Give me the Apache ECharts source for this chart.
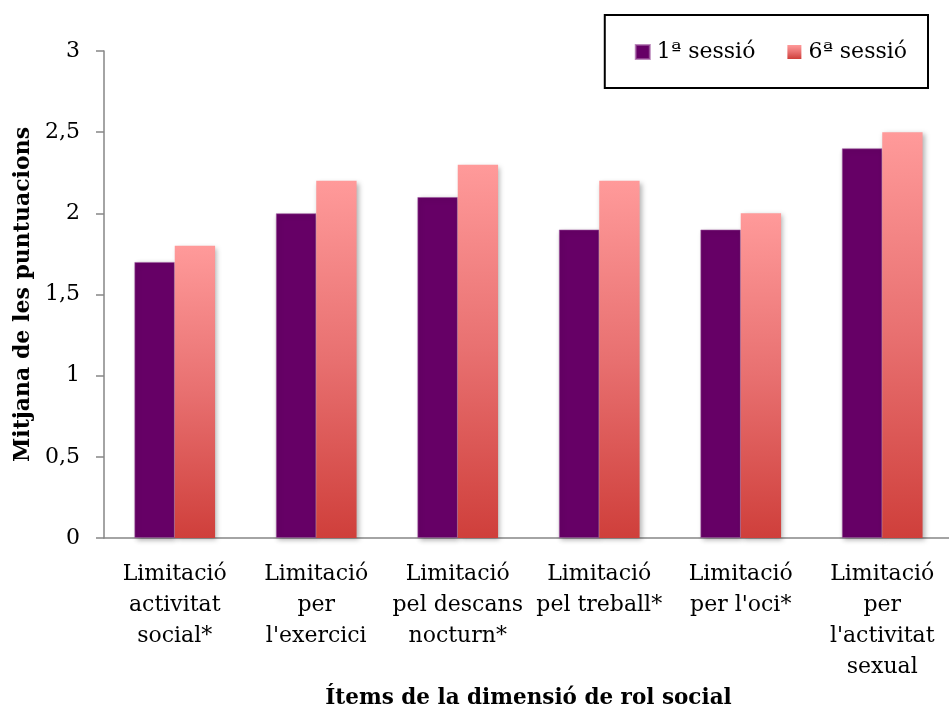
<!DOCTYPE html>
<html>
<head>
<meta charset="utf-8">
<script src="https://cdn.jsdelivr.net/npm/echarts@6/dist/echarts.min.js"></script>
<style>html,body{margin:0;padding:0;background:#fff}#c{width:949px;height:714px}</style>
</head>
<body>
<div id="c"></div>
<script>
const categories = [
  'Limitació\nactivitat\nsocial*',
  'Limitació\nper\nl\'exercici',
  'Limitació\npel descans\nnocturn*',
  'Limitació\npel treball*',
  'Limitació\nper l\'oci*',
  'Limitació\nper\nl\'activitat\nsexual'
];
const seriesNames = ['1ª sessió', '6ª sessió'];
const session1 = [1.7, 2.0, 2.1, 1.9, 1.9, 2.4];
const session6 = [1.8, 2.2, 2.3, 2.2, 2.0, 2.5];
const yTicks = [0, 0.5, 1, 1.5, 2, 2.5, 3];

const font = 'DejaVu Serif';
const chart = echarts.init(document.getElementById('c'), null, {renderer: 'canvas'});
const pinkGrad = new echarts.graphic.LinearGradient(0, 0, 0, 1, [
  {offset: 0, color: '#ff9a9a'},
  {offset: 0.5, color: '#e87070'},
  {offset: 1, color: '#cf3f3b'}
]);
chart.setOption({
  animation: false,
  backgroundColor: '#fff',
  grid: {left: 104, top: 51, width: 849, height: 487, containLabel: false, outerBoundsMode: 'none'},
  legend: {
    right: 21, top: 15,
    orient: 'horizontal',
    borderColor: '#000', borderWidth: 2,
    padding: [26, 21, 25, 30],
    itemWidth: 14, itemHeight: 14, itemGap: 32,
    textStyle: {fontFamily: font, fontSize: 22, color: '#000', padding: [0, 0, 0, 2]},
    data: [
      {name: seriesNames[0], icon: 'rect'},
      {name: seriesNames[1], icon: 'rect', itemStyle: {color: pinkGrad}}
    ]
  },
  xAxis: {
    type: 'category',
    data: categories,
    name: 'Ítems de la dimensió de rol social',
    nameLocation: 'middle',
    nameGap: 144,
    nameTextStyle: {fontFamily: font, fontSize: 21.5, fontWeight: 'bold', color: '#000'},
    axisLine: {lineStyle: {color: '#868686', width: 1.5}},
    axisTick: {length: 8, lineStyle: {color: '#868686', width: 1.5}},
    axisLabel: {fontFamily: font, fontSize: 22, color: '#000', margin: 21, lineHeight: 31, interval: 0}
  },
  yAxis: {
    type: 'value',
    min: 0, max: 3, interval: 0.5,
    name: 'Mitjana de les puntuacions',
    nameLocation: 'middle',
    nameGap: 66,
    nameRotate: 90,
    nameTextStyle: {fontFamily: font, fontSize: 22, fontWeight: 'bold', color: '#000'},
    axisLine: {show: true, lineStyle: {color: '#868686', width: 1.5}},
    axisTick: {show: true, length: 8, lineStyle: {color: '#868686', width: 1.5}},
    splitLine: {show: false},
    axisLabel: {
      fontFamily: font, fontSize: 22, color: '#000', margin: 24,
      formatter: v => yTicks.includes(v) ? String(v).replace('.', ',') : ''
    }
  },
  series: [
    {
      name: seriesNames[0], type: 'bar', data: session1,
      barGap: '0%', barCategoryGap: '43%',
      itemStyle: {color: '#660066', borderColor: 'rgba(160,90,160,0.7)', borderWidth: 0.8,
        shadowColor: 'rgba(0,0,0,0.3)', shadowBlur: 5, shadowOffsetX: 2, shadowOffsetY: 2}
    },
    {
      name: seriesNames[1], type: 'bar', data: session6,
      barGap: '0%', barCategoryGap: '43%',
      itemStyle: {color: pinkGrad,
        shadowColor: 'rgba(0,0,0,0.3)', shadowBlur: 5, shadowOffsetX: 2, shadowOffsetY: 2}
    }
  ]
});
</script>
</body>
</html>
